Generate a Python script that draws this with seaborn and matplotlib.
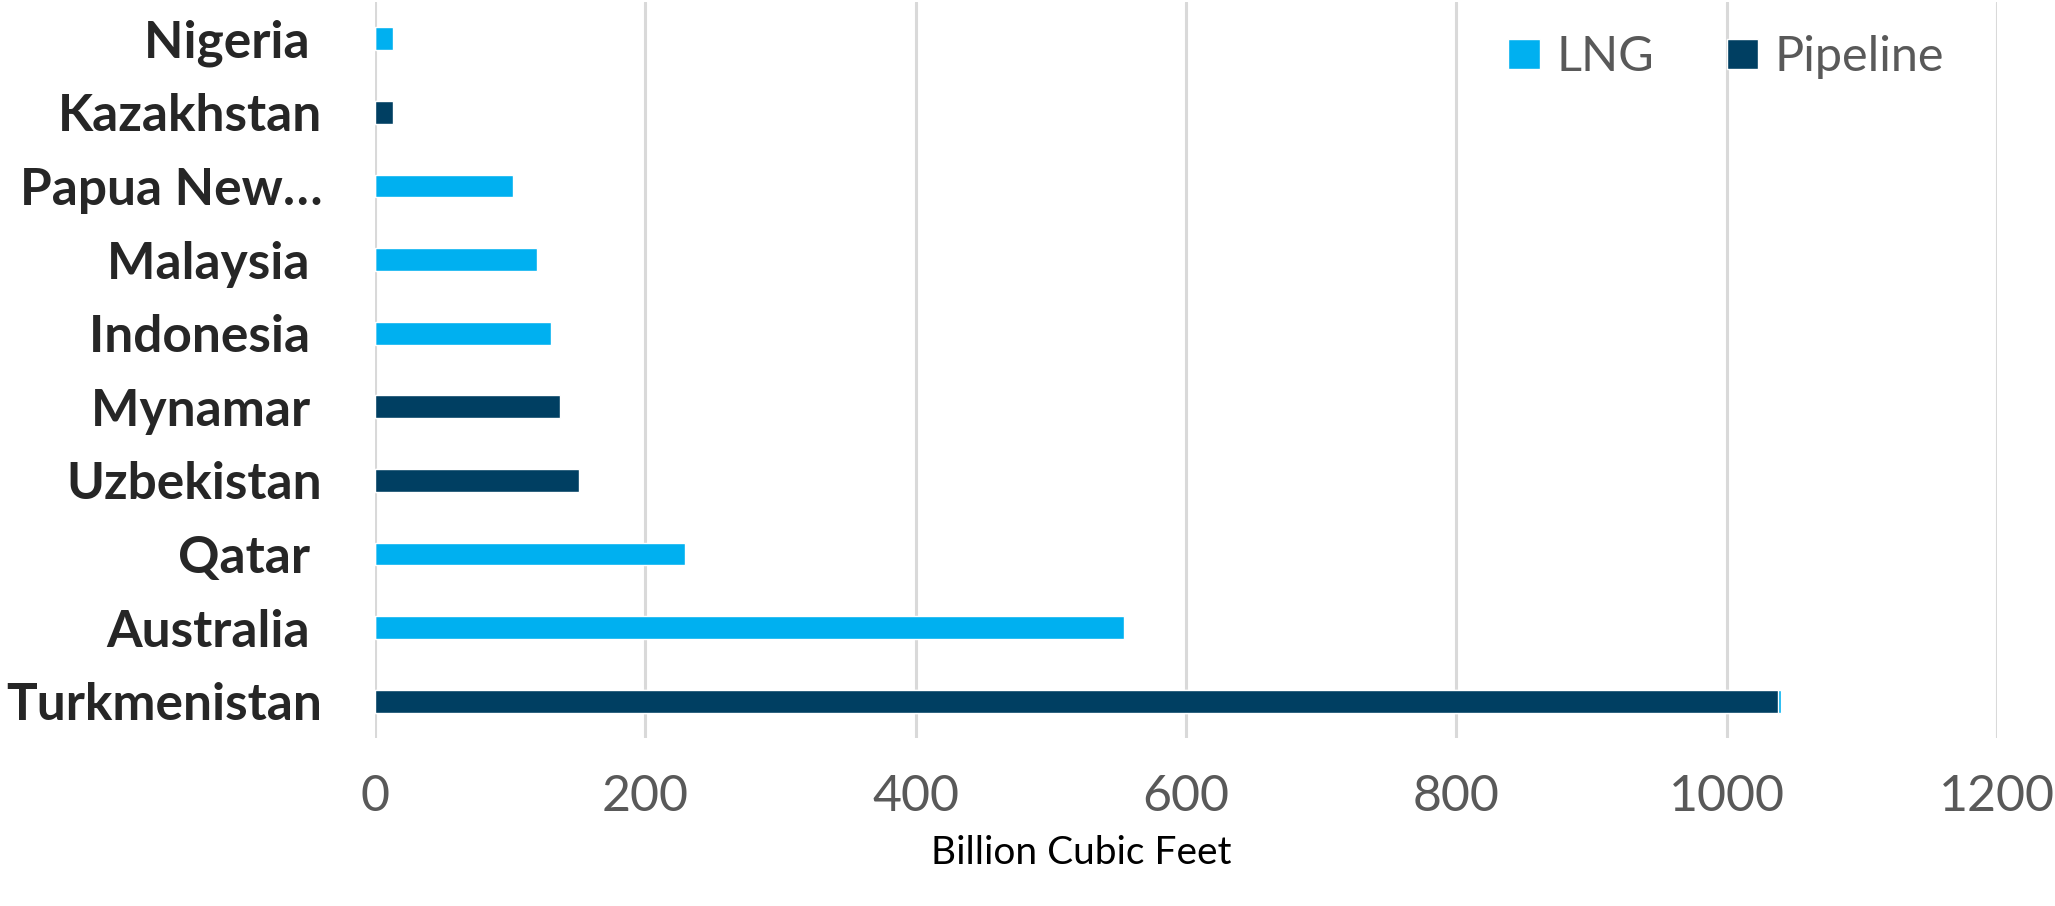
import pandas as pd
import seaborn as sns
import matplotlib.pyplot as plt
from matplotlib.patches import Patch

# data (billion cubic feet)
paises = ["Nigeria ", "Kazakhstan", "Papua New…", "Malaysia ", "Indonesia ",
          "Mynamar ", "Uzbekistan", "Qatar ", "Australia ", "Turkmenistan"]
lng = [13, 0, 102, 120, 130, 0, 0, 229, 554, 2]
pipeline = [0, 13, 0, 0, 0, 137, 151, 0, 0, 1038]

cor_lng = "#00B0F0"
cor_pipe = "#003F62"

tabela = pd.DataFrame({"pais": paises, "LNG": lng, "Pipeline": pipeline})
tabela["total"] = tabela["LNG"] + tabela["Pipeline"]

sns.set_style("white")
plt.rcParams["font.family"] = ["Lato", "DejaVu Sans"]

fig, ax = plt.subplots(figsize=(20.55, 9.06), dpi=100)
fig.subplots_adjust(left=0.1825, right=0.9718, top=0.9978, bottom=0.1854)

# empilhado: total em azul claro, pipeline por cima
sns.barplot(data=tabela, x="total", y="pais", order=paises, color=cor_lng,
            orient="h", width=0.31, saturation=1, ax=ax)
sns.barplot(data=tabela, x="Pipeline", y="pais", order=paises, color=cor_pipe,
            orient="h", width=0.31, saturation=1, ax=ax)

ax.set_xlim(0, 1200)
ax.set_ylim(9.5, -0.5)
ax.set_xticks(range(0, 1201, 200))
ax.grid(axis="x", color="#D9D9D9", linewidth=2.2)
ax.set_axisbelow(True)
for s in ax.spines.values():
    s.set_visible(False)

ax.tick_params(axis="x", length=0, pad=26, labelsize=36, labelcolor="#595959")
ax.tick_params(axis="y", length=0, pad=38)
for t in ax.get_yticklabels():
    t.set_fontsize(37)
    t.set_fontweight("bold")
    t.set_color("#262626")

ax.set_ylabel("")
ax.set_xlabel("")
fig.text(0.526, 0.058, "Billion Cubic Feet", ha="center", va="center",
         fontsize=28, color="#000000")

handles = [Patch(facecolor=cor_lng, label="LNG"),
           Patch(facecolor=cor_pipe, label="Pipeline")]
ax.legend(handles=handles, loc="center", bbox_to_anchor=(0.84, 0.937),
          bbox_transform=fig.transFigure, ncol=2, frameon=False,
          fontsize=35, labelcolor="#595959", handlelength=0.65,
          handleheight=0.6, handletextpad=0.33, columnspacing=1.5)

plt.savefig("out.png", dpi=100)
